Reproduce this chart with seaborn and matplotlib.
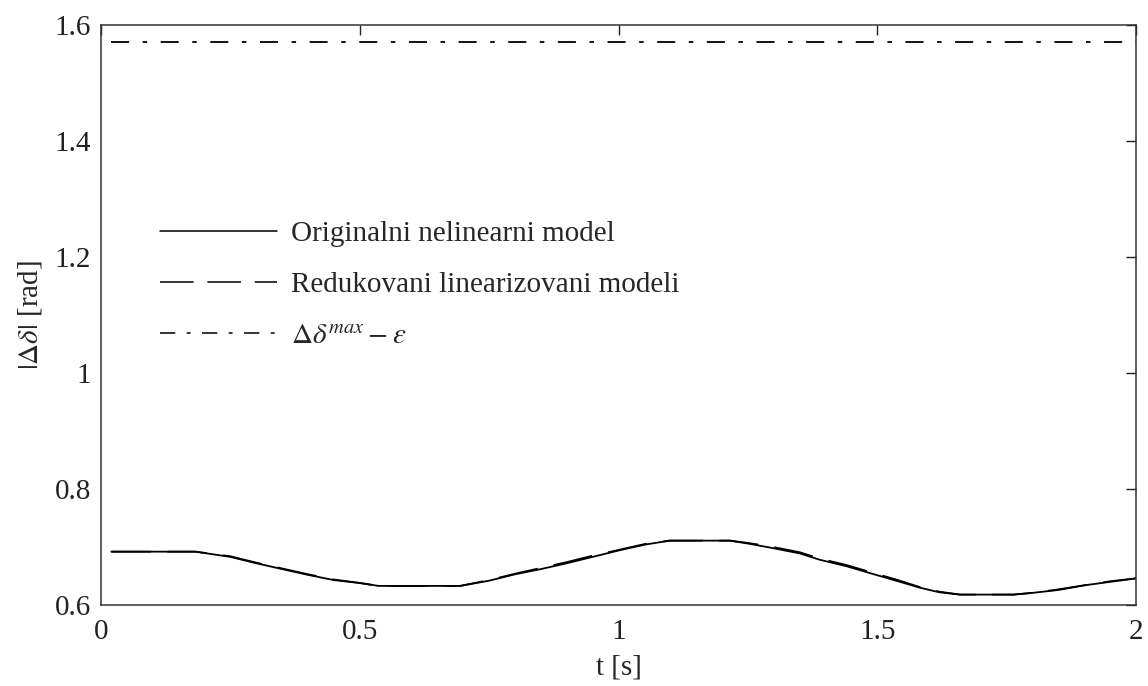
import matplotlib
matplotlib.use("Agg")
import matplotlib.pyplot as plt
import seaborn as sns
import pandas as pd

# values
t = [0.02, 0.10, 0.182, 0.25, 0.30, 0.35, 0.40, 0.45, 0.50, 0.536, 0.60, 0.694,
     0.75, 0.80, 0.85, 0.90, 0.95, 1.00, 1.05, 1.099, 1.15, 1.215, 1.25, 1.293,
     1.35, 1.389, 1.44, 1.486, 1.54, 1.582, 1.62, 1.66, 1.71, 1.763, 1.80, 1.85,
     1.90, 1.95, 2.00]
orig = [0.692, 0.692, 0.692, 0.683, 0.672, 0.662, 0.652, 0.643, 0.638, 0.633, 0.633, 0.633,
        0.642, 0.653, 0.662, 0.672, 0.683, 0.694, 0.704, 0.711, 0.711, 0.711, 0.706, 0.699,
        0.689, 0.678, 0.667, 0.655, 0.641, 0.630, 0.622, 0.618, 0.618, 0.618, 0.621, 0.626,
        0.634, 0.640, 0.646]
lin = [0.692, 0.692, 0.692, 0.684, 0.673, 0.663, 0.653, 0.644, 0.638, 0.633, 0.633, 0.633,
       0.643, 0.654, 0.664, 0.674, 0.685, 0.695, 0.705, 0.711, 0.711, 0.711, 0.707, 0.701,
       0.691, 0.680, 0.669, 0.657, 0.643, 0.631, 0.623, 0.618, 0.618, 0.618, 0.621, 0.627,
       0.634, 0.641, 0.646]
limit_t = [0.02, 2.0]
limit_val = [1.57, 1.57]

labels = ["Originalni nelinearni model",
          "Redukovani linearizovani modeli",
          r"$\Delta\delta^{max} - \varepsilon$"]

df = pd.concat([
    pd.DataFrame({"t": t, "val": orig, "model": labels[0]}),
    pd.DataFrame({"t": t, "val": lin, "model": labels[1]}),
    pd.DataFrame({"t": limit_t, "val": limit_val, "model": labels[2]}),
])

sns.set_style("white")
plt.rcParams["font.family"] = ["Liberation Serif", "DejaVu Serif"]
plt.rcParams["mathtext.fontset"] = "stix"

fig = plt.figure(figsize=(11.48, 6.86), dpi=100)
ax = fig.add_axes([0.088, 0.118, 0.9016, 0.846])

sns.lineplot(data=df, x="t", y="val", hue="model", style="model",
             hue_order=labels, style_order=labels,
             palette=["black"] * 3,
             dashes={labels[0]: "", labels[1]: (22, 9), labels[2]: (10, 7.5, 2.5, 7.5)},
             linewidth=1.3, ax=ax)

ax.set_xlim(0, 2)
ax.set_ylim(0.6, 1.6)
ax.set_xticks([0, 0.5, 1, 1.5, 2])
ax.set_xticklabels(["0", "0.5", "1", "1.5", "2"])
ax.set_yticks([0.6, 0.8, 1.0, 1.2, 1.4, 1.6])
ax.set_yticklabels(["0.6", "0.8", "1", "1.2", "1.4", "1.6"])
ax.tick_params(direction="in", length=7, width=1, top=True, right=True,
               labelsize=21, colors="#222222")
ax.tick_params(axis="x", pad=10)
ax.tick_params(axis="y", pad=7)
for s in ax.spines.values():
    s.set_color("#333333")
    s.set_linewidth(1.1)

ax.set_xlabel("t [s]", fontsize=21, labelpad=7)
ax.set_ylabel(r"$|\Delta\delta|$ [rad]", fontsize=21, labelpad=8)

leg = ax.legend(loc="center left", bbox_to_anchor=(0.057, 0.551), frameon=False,
                fontsize=21, handlelength=4.0, handletextpad=0.5,
                labelspacing=0.85, borderpad=0, borderaxespad=0)
for line in leg.get_lines():
    line.set_linewidth(1.1)

fig.savefig("out.png", dpi=100)
